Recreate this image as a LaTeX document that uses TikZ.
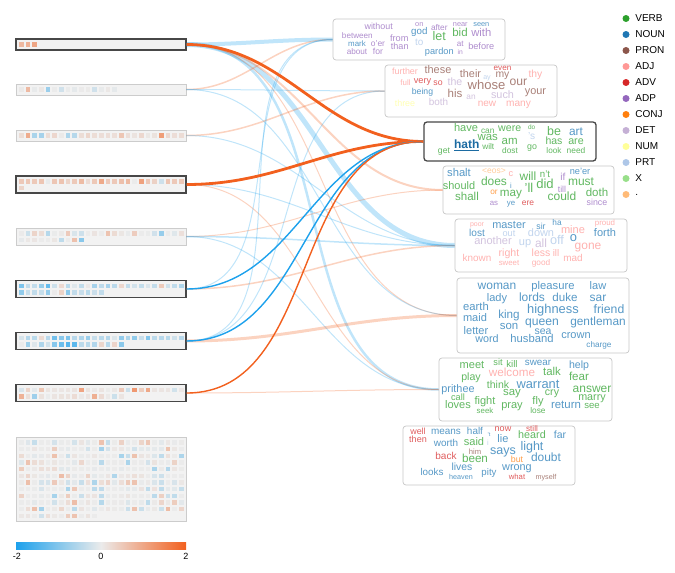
\documentclass[tikz,border=0pt]{standalone}
\usepackage{fontspec}
\setmainfont{Liberation Sans}
\usetikzlibrary{positioning}

\definecolor{cneg}{HTML}{1DA1EC}
\definecolor{cmid}{HTML}{EBEBEB}
\definecolor{cpos}{HTML}{F2601E}
\definecolor{vb}{HTML}{2CA02C}
\definecolor{nn}{HTML}{1F77B4}
\definecolor{pr}{HTML}{8C564B}
\definecolor{aj}{HTML}{FF9896}
\definecolor{av}{HTML}{D62728}
\definecolor{ap}{HTML}{9467BD}
\definecolor{cj}{HTML}{FF7F0E}
\definecolor{dt}{HTML}{C5B0D5}
\definecolor{nm}{HTML}{FFFF99}
\definecolor{pa}{HTML}{AEC7E8}
\definecolor{xx}{HTML}{98DF8A}
\definecolor{pu}{HTML}{FFBB78}

% squares of one panel: top y, count, bias, spread, seed
\newcommand\heat[5]{%
  \pgfmathsetseed{#5}%
  \foreach \i in {1,...,#2}{%
    \pgfmathsetmacro\sr{2*rnd-1}%
    \pgfmathsetmacro\sv{max(-1,min(1,#3+#4*\sr*\sr*\sr))}%
    \pgfmathsetmacro\sa{100*abs(\sv)}%
    \ifdim\sv pt<0pt \colorlet{sq}{cneg!\sa!cmid}\else\colorlet{sq}{cpos!\sa!cmid}\fi
    \fill[sq] ({19+6.67*mod(\i-1,25)},{#1+3.2+6.67*floor((\i-1)/25)}) rectangle ++(4.5,4.5);}}

% one word of a cloud: name, x, y, size, colour, text
\newcommand\cw[6]{%
  \pgfmathsetmacro\fs{0.92*#4}%
  \node[word,text=#5!75!white,font=\fontsize{\fs}{\fs}\selectfont] (#1) at (#2,#3) {#6};}

\begin{document}
\begin{tikzpicture}[x=1pt,y=-1pt,
    panel/.style={draw=black!20, fill=black!5, line width=0.8pt, inner sep=0pt, minimum width=170},
    picked/.style={draw=black!72, line width=1.3pt},
    wbox/.style={draw=black!22, fill=white, rounded corners=3pt, line width=0.7pt, inner sep=0pt},
    word/.style={inner sep=0pt, anchor=mid},
    tie/.style={out=0, in=180},
    hot/.style={draw=cpos},
    cold/.style={draw=cneg},
    faint/.style={draw opacity=0.28}]
\useasboundingbox (0,0) rectangle (675,573);

% left panels
\node[panel,picked,minimum height=11] (p1) at (101,44.5) {};
\node[panel,minimum height=11] (p2) at (101,89.5) {};
\node[panel,minimum height=11] (p3) at (101,135.5) {};
\node[panel,picked,minimum height=17] (p4) at (101,184.5) {};
\node[panel,minimum height=17] (p5) at (101,236.5) {};
\node[panel,picked,minimum height=17] (p6) at (101,289) {};
\node[panel,picked,minimum height=17] (p7) at (101,341) {};
\node[panel,picked,minimum height=17] (p8) at (101,393) {};
\node[panel,minimum height=84] (p9) at (101,479) {};
\heat{39}{3}{0.42}{0.1}{3}
\heat{84}{15}{0}{0.5}{11}
\heat{130}{25}{0.1}{0.6}{5}
\heat{176}{26}{0.25}{0.5}{8}
\heat{228}{35}{0}{0.5}{21}
\heat{280.5}{38}{-0.2}{0.45}{13}
\heat{332.5}{41}{-0.25}{0.5}{17}
\heat{384.5}{41}{0.05}{0.6}{29}
\heat{437}{287}{0}{0.35}{2}

% colour bar
\shade[left color=cneg, right color=cpos, middle color=cmid] (16,542) rectangle (186,549);
\node[font=\fontsize{9}{9}\selectfont] (lo) at (17,556) {-2};
\node[font=\fontsize{9}{9}\selectfont] (mid) at (101,556) {0};
\node[font=\fontsize{9}{9}\selectfont] (hi) at (186,556) {2};

% word boxes
\node[wbox,minimum width=172,minimum height=41] (adp) at (419,39.5) {};
\node[wbox,minimum width=172,minimum height=52] (pron) at (471,91) {};
\node[wbox,picked,minimum width=172,minimum height=39] (verb) at (510,141.5) {};
\node[wbox,minimum width=171,minimum height=48] (modal) at (528.5,190) {};
\node[wbox,minimum width=172,minimum height=53] (adj) at (541,245.5) {};
\node[wbox,minimum width=172,minimum height=75] (noun) at (543,315.5) {};
\node[wbox,minimum width=173,minimum height=63] (act) at (525.5,389.5) {};
\node[wbox,minimum width=172,minimum height=59] (misc) at (489,455.5) {};

% links
\draw[tie,cold,faint,line width=4] (p1.east) to (adp.west);
\draw[tie,cold,faint,line width=5] (p1.east) to (adj.west);
\draw[tie,cold,faint,line width=2.5] (p1.east) to (act.west);
\draw[tie,hot,faint,line width=2] (p1.east) to (modal.west);
\draw[tie,hot,faint,line width=1] (p1.east) to (noun.west);
\draw[tie,hot,faint,line width=1.5] (p2.east) to (adp.west);
\draw[tie,cold,faint,line width=1] (p2.east) to (pron.west);
\draw[tie,cold,faint,line width=1] (p2.east) to (noun.west);
\draw[tie,hot,faint,line width=1.5] (p3.east) to (pron.west);
\draw[tie,cold,faint,line width=1] (p3.east) to (adj.west);
\draw[tie,hot,faint,line width=1] (p4.east) to (act.west);
\draw[tie,cold,faint,line width=1] (p4.east) to (adj.west);
\draw[tie,hot,faint,line width=1] (p5.east) to (modal.west);
\draw[tie,cold,faint,line width=1.5] (p5.east) to (adj.west);
\draw[tie,cold,faint,line width=1] (p5.east) to (act.west);
\draw[tie,hot,faint,line width=1.5] (p6.east) to (adj.west);
\draw[tie,cold,faint,line width=1] (p6.east) to (adp.west);
\draw[tie,hot,faint,line width=3] (p7.east) to (noun.west);
\draw[tie,cold,faint,line width=1] (p7.east) to (adp.west);
\draw[tie,cold,faint,line width=1] (p7.east) to (pron.west);
\draw[tie,hot,faint,line width=1] (p8.east) to (act.west);
\draw[tie,hot,line width=2.8] (p1.east) to (verb.west);
\draw[tie,hot,line width=2.8] (p4.east) to (verb.west);
\draw[tie,cold,line width=1.4] (p6.east) to (verb.west);
\draw[tie,cold,line width=1.4] (p7.east) to (verb.west);
\draw[tie,hot,line width=1.4] (p8.east) to (verb.west);

% word clouds
\foreach \x/\y/\s/\c/\t [count=\i] in {378.7/27.3/9.7/ap/without, 357.3/35.7/8.8/ap/between,
    357/43.7/8.6/nn/mark, 378/43.7/9.2/ap/o'er, 357/51.7/8.9/ap/about, 378/51.7/9.4/ap/for,
    399.3/39.3/10/ap/from, 399.7/46.7/9.9/ap/than, 419.3/24/8/ap/on, 419.3/31.7/10.6/nn/god,
    419.3/43.3/10.8/pa/to, 439.3/27.7/9/ap/after, 439.3/38.3/13.6/vb/let, 439.3/51.7/10/nn/pardon,
    460.3/24/8/ap/near, 460/34.3/12.5/vb/bid, 460.3/43.7/8.8/ap/at, 460.3/51.7/7.3/ap/in,
    481.3/24/8/nn/seen, 481.3/34.3/12.2/ap/with, 481.3/47/10/ap/before}
  {\cw{a\i}{\x}{\y}{\s}{\c}{\t}}
\foreach \x/\y/\s/\c/\t [count=\i] in {405/72/9.7/aj/further, 438/71/11.9/pr/these,
    470.5/75/11.8/pr/their, 487/77/7.6/pa/ay, 502.5/68/8.8/av/even, 502.5/75/11.3/pr/my,
    535.5/75/11.2/aj/thy, 405.5/83/8.6/aj/full, 422.5/81/10/av/very, 438/83/9.5/av/so,
    455/83/11.5/dt/the, 486.5/87/14.2/pr/whose, 518.5/83/13.2/pr/our, 535.5/92/11.8/pr/your,
    422.5/92/9.4/nn/being, 455/95/12.5/pr/his, 471/97/9/dt/an, 502.5/96/11.8/dt/such,
    405/104/9.7/nm/three, 438.5/103/10.8/dt/both, 487/104/10.9/aj/new, 518.5/104/11/aj/many}
  {\cw{b\i}{\x}{\y}{\s}{\c}{\t}}
\foreach \x/\y/\s/\c/\t [count=\i] in {466/129.3/12/vb/have, 487.7/130.7/9/vb/can,
    509.7/129.3/11.5/vb/were, 531.7/126.7/7/vb/do, 487.7/138.3/12.4/vb/was, 509.7/141.7/12.5/vb/am,
    531.7/137.3/11/pa/'s, 554/133.3/13.5/vb/be, 576/133.3/12.9/nn/art, 444/151.3/9.4/vb/get,
    488.3/146.7/9/vb/wilt, 510/150.7/9/vb/dost, 532/146.7/9.6/vb/go, 554/141.7/11.4/vb/has,
    576/141.7/11.6/vb/are, 554/150.7/8.9/vb/look, 576/150.7/9.1/vb/need}
  {\cw{c\i}{\x}{\y}{\s}{\c}{\t}}
\node[word,text=nn!90!black,font=\bfseries\fontsize{12}{12}\selectfont] (hath) at (466.7,145.7) {\underline{hath}};
\foreach \x/\y/\s/\c/\t [count=\i] in {459/174/12.2/nn/shalt, 494/171/9.2/pu/<eos>,
    511/174/10/aj/c, 528/178/13/vb/will, 545/175/10.5/vb/n't, 580/172/10/nn/ne'er,
    459/187/11.9/vb/should, 494/183/13/vb/does, 511/186/8/nn/i, 545/186/14.2/vb/did,
    563/178/11/ap/if, 581/183/13/vb/must, 562/190/9.5/ap/till, 467/198/12.5/vb/shall,
    494/192/9/cj/or, 511/194/12.7/vb/may, 529/190/14/vb/'ll, 562/198/13/vb/could,
    597/194/12.5/vb/doth, 494/203/8.5/ap/as, 511/203/8.5/nn/ye, 528/203/9.2/av/ere,
    597/203/9.6/ap/since}
  {\cw{d\i}{\x}{\y}{\s}{\c}{\t}}
\foreach \x/\y/\s/\c/\t [count=\i] in {477/224/7.6/aj/poor, 509/226/11.9/nn/master,
    541/227/9.5/nn/sir, 557/223/9/nn/ha, 605/223/8.6/aj/proud, 477/234/11/nn/lost,
    509/234/10/pa/out, 541/234/11.9/pa/down, 573/230.5/12/aj/mine, 605/234/12/nn/forth,
    493/242/12/dt/another, 525/243/12/pa/up, 541/245/13/dt/all, 557/242/13.8/pa/off,
    573.5/239/14/nn/o, 588/246.5/13/aj/gone, 477/259/10.8/aj/known, 509/254/11.5/aj/right,
    509/263/8.5/aj/sweet, 541/254/11.4/aj/less, 556/254/10.5/aj/ill, 541/263/9/aj/good,
    573/259/10.8/aj/mad}
  {\cw{e\i}{\x}{\y}{\s}{\c}{\t}}
\foreach \x/\y/\s/\t [count=\i] in {497/287/13/woman, 553/287/12.2/pleasure, 598/287/12/law,
    497/299/12/lady, 532/299/13/lords, 565/299/12.6/duke, 598/299/13/sar, 476/308/12.2/earth,
    553/311/14/highness, 609/311/13.3/friend, 475/319/12/maid, 509/316/12.7/king,
    542/323/13.2/queen, 598/323/12.9/gentleman, 476/332/12/letter, 509/327/12.4/son,
    543/332/11.4/sea, 576/336/12/crown, 487/340/11.7/word, 532/340/12.2/husband,
    599/345/8.9/charge}
  {\cw{f\i}{\x}{\y}{\s}{nn}{\t}}
\foreach \x/\y/\s/\c/\t [count=\i] in {472/366/12/vb/meet, 498/363/10/vb/sit, 512/365/10.5/vb/kill,
    538/363/10.7/nn/swear, 579/366/11.5/nn/help, 471/378/11.5/vb/play, 512/374/12.7/aj/welcome,
    552/373/12.4/vb/talk, 579/378/12.6/vb/fear, 458/390/11.8/nn/prithee, 498/386/11.4/vb/think,
    538/386/14/nn/warrant, 592/390/13/vb/answer, 512/393/12.4/vb/say, 552/393/11.5/vb/cry,
    592/398/11.7/vb/marry, 458/398/10/vb/call, 458/406/12/vb/loves, 485/402/12/vb/fight,
    485/411/8.5/vb/seek, 512/406/12/vb/pray, 538/402/12/vb/fly, 538/411/9/vb/lose,
    566/406/12.4/nn/return, 592/406/10.4/vb/see}
  {\cw{g\i}{\x}{\y}{\s}{\c}{\t}}
\foreach \x/\y/\s/\c/\t [count=\i] in {418/432/9.7/av/well, 418/440/9.8/av/then,
    446/432/10.8/nn/means, 475/432/10.8/nn/half, 489/434/6/nn/'t, 503/429/9.8/av/now,
    532/429/8.8/av/still, 446/444/10.8/nn/worth, 474/443/12/vb/said, 488/443/8/pa/i,
    503/440/12/nn/lie, 532/436/11.7/vb/heard, 560/436/11.4/nn/far, 475/451.5/8.3/pr/him,
    446/457/10.9/av/back, 503/452/13.6/nn/says, 532/448/13.6/nn/light, 475/460/12.7/vb/been,
    517/460/9.6/cj/but, 546/459/13/nn/doubt, 432/473/10.7/nn/looks, 462/468/11.3/nn/lives,
    461/477/7.8/nn/heaven, 489/473/10.5/nn/pity, 517/468/11.8/nn/wrong, 517/477/8.4/av/what,
    546/477/7.8/pr/myself}
  {\cw{h\i}{\x}{\y}{\s}{\c}{\t}}

% legend
\foreach \c/\t [count=\k] in {vb/VERB, nn/NOUN, pr/PRON, aj/ADJ, av/ADV, ap/ADP, cj/CONJ,
    dt/DET, nm/NUM, pa/PRT, xx/X, pu/.}{
  \node[circle,fill=\c,inner sep=0pt,minimum size=7] (k\k) at (626,{2.5+16*\k}) {};
  \node[right=5.5pt of k\k,inner sep=0pt,font=\fontsize{10}{10}\selectfont] (t\k) {\t};
}
\end{tikzpicture}
\end{document}
